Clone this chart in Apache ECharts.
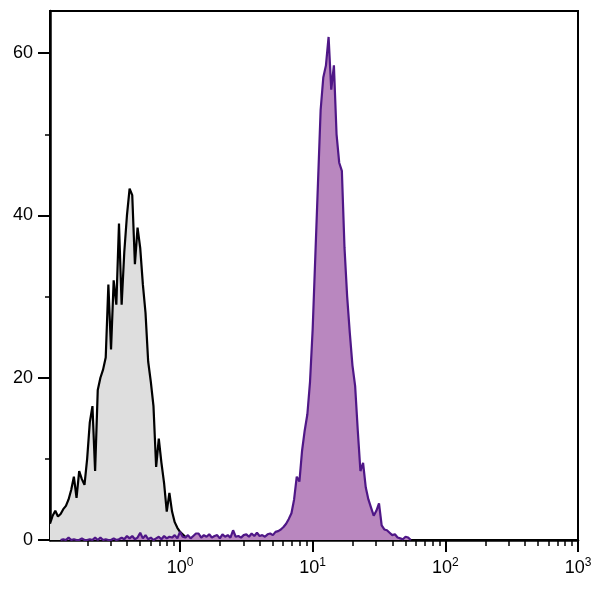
<!DOCTYPE html>
<html>
<head>
<meta charset="utf-8">
<script src="https://cdn.jsdelivr.net/npm/echarts@6/dist/echarts.min.js"></script>
<style>html,body{margin:0;padding:0;background:#fff}#c{width:600px;height:590px}</style>
</head>
<body>
<div id="c"></div>
<script>
// Histogram bins: evenly spaced in log10 space (channel definition)
var binLog10Start = -1;
var binLog10Step = 0.02;
// Unstained / isotype (gray) counts, starting at bin 1
var grayStartBin = 1;
var grayCounts = [2.0,3.0,3.6,2.9,3.2,3.8,4.2,5.0,6.2,7.8,5.2,8.5,7.5,6.8,10.0,14.5,16.5,8.5,18.5,20.0,
  21.0,22.5,31.5,23.5,32.0,29.0,39.0,29.0,35.5,40.0,43.3,42.5,34.0,38.5,36.0,31.5,28.0,22.0,19.5,16.5,
  9.0,12.5,9.5,7.0,3.5,5.8,3.5,2.2,1.5,1.0,0.7,0.4,0.3,0.1,0.2,0.3,0.1,0.2,0,0.3,
  0.1,0.2,0,0.3,0.1,0,0.2,0,0.1,0.3,0,0.1,0,0.2,0,0.1,0,0];
// Stained (purple) counts, starting at bin 5
var purpleStartBin = 5;
var purpleCounts = [0,0.1,0,0.3,0,0.1,0,0,0.2,0,0,0.1,0,0.3,0,0.3,0,0.1,0,0,
  0.2,0,0.1,0.3,0.1,0.5,0.2,0.5,0.1,0.3,0.9,0.2,0.6,0.1,0.3,0,0.2,0.4,0.1,0.5,
  0.2,0.4,0.3,0.6,0.2,1.0,0.4,0.3,0.6,0.2,0.5,0.8,0.8,0.3,0.6,0.4,0.7,0.3,0.5,0.6,
  0.2,0.7,0.4,0.6,0.3,1.2,0.4,0.5,0.3,0.6,0.7,0.4,0.8,0.5,0.9,0.5,0.6,0.4,0.7,0.8,
  0.6,1.0,1.1,1.3,1.6,2.0,2.6,3.3,5.0,7.8,7.2,11.0,13.5,15.5,19.5,26.0,35.0,44.0,53.0,57.0,
  58.5,62.0,55.5,58.5,50.0,46.5,45.5,36.0,30.0,25.5,21.5,19.0,13.5,8.5,9.5,6.5,5.0,4.0,3.0,3.6,
  4.5,1.8,1.3,1.2,0.9,0.6,0.7,0.3,0.2,0.1,0.4,0.3,0];
// Axis ranges and tick labels
var xMinLog10 = -0.98;
var xMaxLog10 = 3;
var yMax = 65.2;
var xMajorExponents = [0, 1, 2, 3];
var xMinorMultipliers = [2, 3, 4, 5, 6, 7, 8, 9];
var xMinorDecades = [-1, 0, 1, 2];
var yLabelValues = [0, 20, 40, 60];
var yMinorValues = [10, 30, 50];

function toPoints(startBin, counts) {
  return counts.map(function (c, k) {
    return [Math.pow(10, binLog10Start + (startBin + k) * binLog10Step), c];
  });
}
var xMinorTicks = [];
xMinorDecades.forEach(function (d) {
  xMinorMultipliers.forEach(function (m) { xMinorTicks.push(d + Math.log10(m)); });
});

var FONT = 'Liberation Sans';
var chart = echarts.init(document.getElementById('c'), null, { renderer: 'canvas' });
chart.setOption({
  animation: false,
  backgroundColor: '#fff',
  grid: { left: 50, right: 22, top: 11, bottom: 50, show: true, borderColor: '#000', borderWidth: 2, backgroundColor: 'transparent' },
  xAxis: [
    { type: 'log', logBase: 10, min: Math.pow(10, xMinLog10), max: Math.pow(10, xMaxLog10), position: 'bottom', show: false,
      axisLine: { onZero: false } },
    { type: 'value', min: xMinLog10, max: xMaxLog10, position: 'bottom',
      axisLine: { show: true, onZero: false, lineStyle: { color: '#000', width: 2.5 } },
      axisTick: { show: true, customValues: xMajorExponents, length: 12, lineStyle: { color: '#000', width: 2 } },
      axisLabel: { show: true, customValues: xMajorExponents, margin: 17,
        formatter: function (v) { return '{b|10}{s|' + v + '}'; },
        rich: {
          b: { fontFamily: FONT, fontSize: 18, color: '#000', verticalAlign: 'bottom' },
          s: { fontFamily: FONT, fontSize: 12, color: '#000', verticalAlign: 'bottom', padding: [0, 0, 8, 0] }
        } },
      splitLine: { show: false } },
    { type: 'value', min: xMinLog10, max: xMaxLog10, position: 'bottom',
      axisLine: { show: false, onZero: false },
      axisTick: { show: true, customValues: xMinorTicks, length: 6, lineStyle: { color: '#000', width: 1.5 } },
      axisLabel: { show: false }, splitLine: { show: false } }
  ],
  yAxis: [
    { type: 'value', min: 0, max: yMax, position: 'left',
      axisLine: { show: true, onZero: false, lineStyle: { color: '#000', width: 2.5 } },
      axisTick: { show: true, customValues: yLabelValues, length: 12, lineStyle: { color: '#000', width: 2 } },
      axisLabel: { show: true, customValues: yLabelValues, margin: 17, fontFamily: FONT, fontSize: 18, color: '#000' },
      splitLine: { show: false } },
    { type: 'value', min: 0, max: yMax, position: 'left',
      axisLine: { show: false, onZero: false },
      axisTick: { show: true, customValues: yMinorValues, length: 5, lineStyle: { color: '#000', width: 1.5 } },
      axisLabel: { show: false }, splitLine: { show: false } }
  ],
  series: [
    { type: 'line', name: 'control', xAxisIndex: 0, yAxisIndex: 0, data: toPoints(grayStartBin, grayCounts),
      symbol: 'none', smooth: false, sampling: null,
      lineStyle: { color: '#000', width: 2.2 }, areaStyle: { color: '#dedede', opacity: 1 }, z: 2 },
    { type: 'line', name: 'stained', xAxisIndex: 0, yAxisIndex: 0, data: toPoints(purpleStartBin, purpleCounts),
      symbol: 'none', smooth: false, sampling: null,
      lineStyle: { color: '#4f1787', width: 2.2 }, areaStyle: { color: '#b987bf', opacity: 1 }, z: 3 }
  ]
});
</script>
</body>
</html>
